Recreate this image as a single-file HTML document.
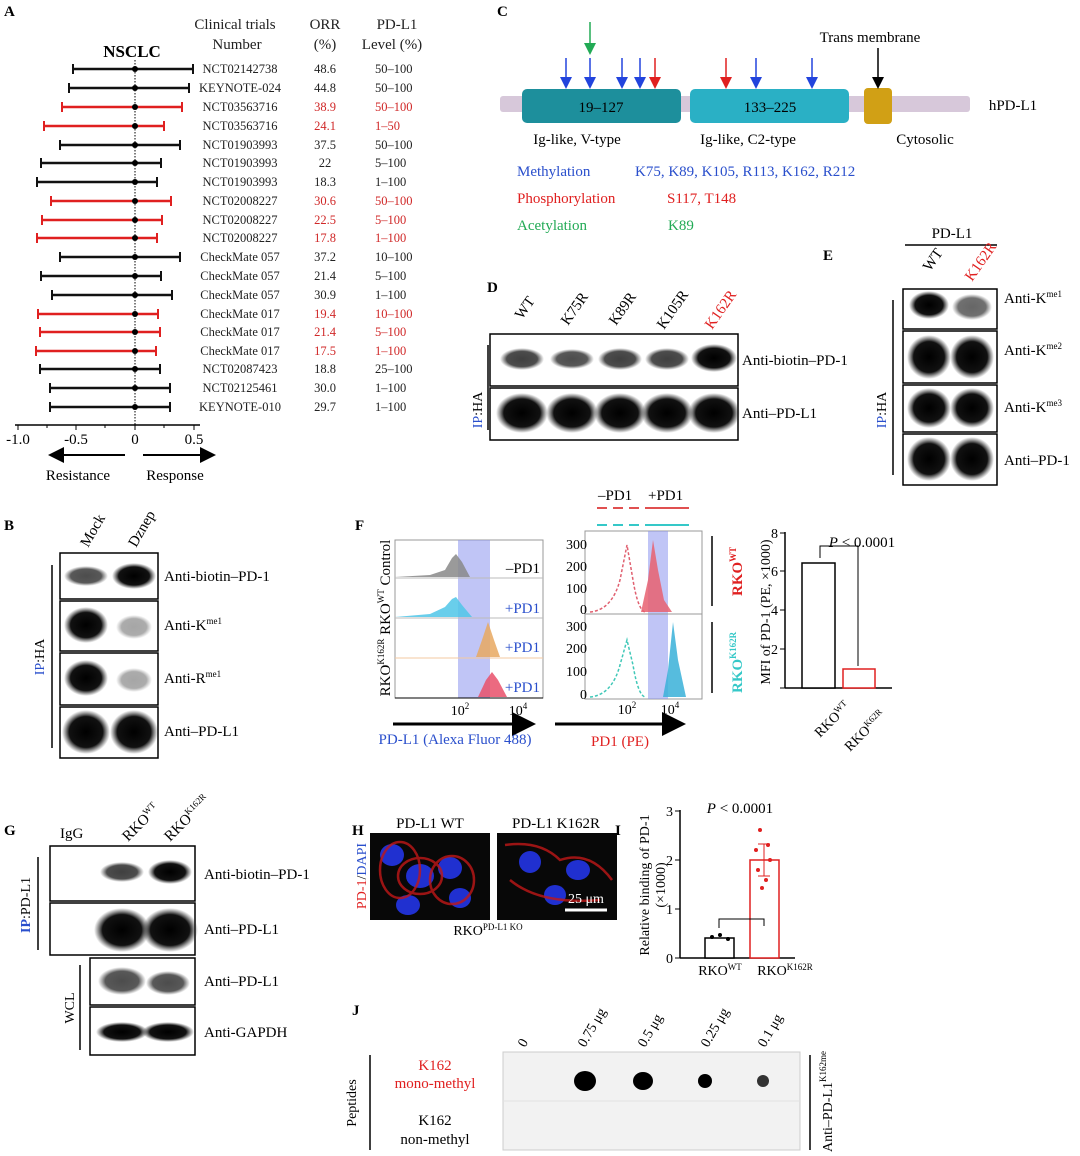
<!DOCTYPE html><html><head><meta charset="utf-8"><style>body{margin:0;background:#fff}svg{display:block}text{font-family:"Liberation Serif",serif}</style></head><body>
<svg width="1080" height="1156" viewBox="0 0 1080 1156" xmlns="http://www.w3.org/2000/svg">
<defs>
<radialGradient id="bl"><stop offset="0" stop-color="#000"/><stop offset=".7" stop-color="#111"/><stop offset="1" stop-color="#333" stop-opacity="0"/></radialGradient>
<marker id="ar" markerWidth="8" markerHeight="8" refX="6" refY="4" orient="auto"><path d="M0,0L8,4L0,8z" fill="#000"/></marker>
<marker id="arb" markerWidth="8" markerHeight="8" refX="6" refY="4" orient="auto"><path d="M0,0L8,4L0,8z" fill="#2244dd"/></marker>
<marker id="arr" markerWidth="8" markerHeight="8" refX="6" refY="4" orient="auto"><path d="M0,0L8,4L0,8z" fill="#e02020"/></marker>
<marker id="arg" markerWidth="8" markerHeight="8" refX="6" refY="4" orient="auto"><path d="M0,0L8,4L0,8z" fill="#22aa55"/></marker>
</defs>
<g font-family="Liberation Sans" font-weight="bold" font-size="15">
<text x="4" y="16" font-family="Liberation Sans">A</text><text x="497" y="16" font-family="Liberation Sans">C</text>
<text x="487" y="292" font-family="Liberation Sans">D</text><text x="823" y="260" font-family="Liberation Sans">E</text>
<text x="4" y="530" font-family="Liberation Sans">B</text><text x="355" y="530" font-family="Liberation Sans">F</text>
<text x="4" y="835" font-family="Liberation Sans">G</text><text x="352" y="835" font-family="Liberation Sans">H</text>
<text x="615" y="835" font-family="Liberation Sans">I</text><text x="352" y="1015" font-family="Liberation Sans">J</text>
</g>
<!-- Panel A -->
<text x="132" y="57" font-size="17" font-weight="bold" text-anchor="middle">NSCLC</text>
<g font-size="15" text-anchor="middle" fill="#222"><text x="235" y="29">Clinical trials</text><text x="237" y="49">Number</text><text x="325" y="29">ORR</text><text x="325" y="49">(%)</text><text x="397" y="29">PD-L1</text><text x="392" y="49">Level   (%)</text></g>
<line x1="135" y1="60" x2="135" y2="425" stroke="#000" stroke-dasharray="1.5,1.5"/>
<g font-size="11.5" stroke-width="2.5">
<g stroke="#111"><line x1="73" y1="69" x2="193" y2="69"/><line x1="69" y1="88" x2="189" y2="88"/><line x1="60" y1="145" x2="180" y2="145"/><line x1="41" y1="163" x2="161" y2="163"/><line x1="37" y1="182" x2="157" y2="182"/><line x1="60" y1="257" x2="180" y2="257"/><line x1="41" y1="276" x2="161" y2="276"/><line x1="52" y1="295" x2="172" y2="295"/><line x1="40" y1="369" x2="160" y2="369"/><line x1="50" y1="388" x2="170" y2="388"/><line x1="50" y1="407" x2="170" y2="407"/></g>
<g stroke="#e02020"><line x1="62" y1="107" x2="182" y2="107"/><line x1="44" y1="126" x2="164" y2="126"/><line x1="51" y1="201" x2="171" y2="201"/><line x1="42" y1="220" x2="162" y2="220"/><line x1="37" y1="238" x2="157" y2="238"/><line x1="38" y1="314" x2="158" y2="314"/><line x1="40" y1="332" x2="160" y2="332"/><line x1="36" y1="351" x2="156" y2="351"/></g>
</g>
<g stroke-width="2">
<g stroke="#111"><path d="M73 64v10M193 64v10M69 83v10M189 83v10M60 140v10M180 140v10M41 158v10M161 158v10M37 177v10M157 177v10M60 252v10M180 252v10M41 271v10M161 271v10M52 290v10M172 290v10M40 364v10M160 364v10M50 383v10M170 383v10M50 402v10M170 402v10"/></g>
<g stroke="#e02020"><path d="M62 102v10M182 102v10M44 121v10M164 121v10M51 196v10M171 196v10M42 215v10M162 215v10M37 233v10M157 233v10M38 309v10M158 309v10M40 327v10M160 327v10M36 346v10M156 346v10"/></g>
</g>
<g fill="#000"><circle cx="135" cy="69" r="3"/><circle cx="135" cy="88" r="3"/><circle cx="135" cy="107" r="3"/><circle cx="135" cy="126" r="3"/><circle cx="135" cy="145" r="3"/><circle cx="135" cy="163" r="3"/><circle cx="135" cy="182" r="3"/><circle cx="135" cy="201" r="3"/><circle cx="135" cy="220" r="3"/><circle cx="135" cy="238" r="3"/><circle cx="135" cy="257" r="3"/><circle cx="135" cy="276" r="3"/><circle cx="135" cy="295" r="3"/><circle cx="135" cy="314" r="3"/><circle cx="135" cy="332" r="3"/><circle cx="135" cy="351" r="3"/><circle cx="135" cy="369" r="3"/><circle cx="135" cy="388" r="3"/><circle cx="135" cy="407" r="3"/></g>
<g font-size="12.5" fill="#222">
<g text-anchor="middle">
<text x="240" y="73">NCT02142738</text><text x="240" y="92">KEYNOTE-024</text><text x="240" y="111">NCT03563716</text><text x="240" y="130">NCT03563716</text><text x="240" y="149">NCT01903993</text><text x="240" y="167">NCT01903993</text><text x="240" y="186">NCT01903993</text><text x="240" y="205">NCT02008227</text><text x="240" y="224">NCT02008227</text><text x="240" y="242">NCT02008227</text><text x="240" y="261">CheckMate 057</text><text x="240" y="280">CheckMate 057</text><text x="240" y="299">CheckMate 057</text><text x="240" y="318">CheckMate 017</text><text x="240" y="336">CheckMate 017</text><text x="240" y="355">CheckMate 017</text><text x="240" y="373">NCT02087423</text><text x="240" y="392">NCT02125461</text><text x="240" y="411">KEYNOTE-010</text>
<text x="325" y="73">48.6</text><text x="325" y="92">44.8</text><text x="325" y="111" fill="#d02828">38.9</text><text x="325" y="130" fill="#d02828">24.1</text><text x="325" y="149">37.5</text><text x="325" y="167">22</text><text x="325" y="186">18.3</text><text x="325" y="205" fill="#d02828">30.6</text><text x="325" y="224" fill="#d02828">22.5</text><text x="325" y="242" fill="#d02828">17.8</text><text x="325" y="261">37.2</text><text x="325" y="280">21.4</text><text x="325" y="299">30.9</text><text x="325" y="318" fill="#d02828">19.4</text><text x="325" y="336" fill="#d02828">21.4</text><text x="325" y="355" fill="#d02828">17.5</text><text x="325" y="373">18.8</text><text x="325" y="392">30.0</text><text x="325" y="411">29.7</text>
</g>
<g text-anchor="start">
<text x="375" y="73">50–100</text><text x="375" y="92">50–100</text><text x="375" y="111" fill="#d02828">50–100</text><text x="375" y="130" fill="#d02828">1–50</text><text x="375" y="149">50–100</text><text x="375" y="167">5–100</text><text x="375" y="186">1–100</text><text x="375" y="205" fill="#d02828">50–100</text><text x="375" y="224" fill="#d02828">5–100</text><text x="375" y="242" fill="#d02828">1–100</text><text x="375" y="261">10–100</text><text x="375" y="280">5–100</text><text x="375" y="299">1–100</text><text x="375" y="318" fill="#d02828">10–100</text><text x="375" y="336" fill="#d02828">5–100</text><text x="375" y="355" fill="#d02828">1–100</text><text x="375" y="373">25–100</text><text x="375" y="392">1–100</text><text x="375" y="411">1–100</text>
</g></g>
<line x1="15" y1="425" x2="200" y2="425" stroke="#000" stroke-width="1.5"/>
<path d="M18 425v5M76 425v5M135 425v5M194 425v5M47 425v3M105 425v3M164 425v3" stroke="#000"/>
<g font-size="15" text-anchor="middle"><text x="18" y="444">-1.0</text><text x="76" y="444">-0.5</text><text x="135" y="444">0</text><text x="194" y="444">0.5</text></g>
<line x1="125" y1="455" x2="52" y2="455" stroke="#000" stroke-width="2" marker-end="url(#ar)"/>
<line x1="143" y1="455" x2="212" y2="455" stroke="#000" stroke-width="2" marker-end="url(#ar)"/>
<text x="78" y="480" font-size="15" text-anchor="middle">Resistance</text><text x="175" y="480" font-size="15" text-anchor="middle">Response</text>
<!-- Panel C -->
<rect x="500" y="96" width="470" height="16" fill="#d7c8da" rx="3"/>
<rect x="522" y="89" width="159" height="34" rx="5" fill="#1d8f9c"/>
<rect x="690" y="89" width="159" height="34" rx="5" fill="#2ab0c5"/>
<rect x="864" y="88" width="28" height="36" rx="4" fill="#d1a015"/>
<text x="601" y="112" font-size="15" text-anchor="middle">19–127</text><text x="770" y="112" font-size="15" text-anchor="middle">133–225</text>
<text x="1013" y="110" font-size="15" text-anchor="middle">hPD-L1</text>
<text x="870" y="42" font-size="15" text-anchor="middle">Trans membrane</text>
<line x1="878" y1="48" x2="878" y2="86" stroke="#000" stroke-width="1.5" marker-end="url(#ar)"/>
<g stroke-width="1.5">
<line x1="566" y1="58" x2="566" y2="86" stroke="#2244dd" marker-end="url(#arb)"/><line x1="590" y1="58" x2="590" y2="86" stroke="#2244dd" marker-end="url(#arb)"/><line x1="622" y1="58" x2="622" y2="86" stroke="#2244dd" marker-end="url(#arb)"/><line x1="640" y1="58" x2="640" y2="86" stroke="#2244dd" marker-end="url(#arb)"/><line x1="655" y1="58" x2="655" y2="86" stroke="#e02020" marker-end="url(#arr)"/><line x1="726" y1="58" x2="726" y2="86" stroke="#e02020" marker-end="url(#arr)"/><line x1="756" y1="58" x2="756" y2="86" stroke="#2244dd" marker-end="url(#arb)"/><line x1="812" y1="58" x2="812" y2="86" stroke="#2244dd" marker-end="url(#arb)"/><line x1="590" y1="22" x2="590" y2="52" stroke="#22aa55" marker-end="url(#arg)"/>
</g>
<text x="577" y="144" font-size="15" text-anchor="middle">Ig-like, V-type</text><text x="748" y="144" font-size="15" text-anchor="middle">Ig-like, C2-type</text><text x="925" y="144" font-size="15" text-anchor="middle">Cytosolic</text>
<g font-size="15"><text x="517" y="176" fill="#2a4fcc">Methylation</text><text x="635" y="176" fill="#2a4fcc">K75, K89, K105, R113, K162, R212</text>
<text x="517" y="203" fill="#e02020">Phosphorylation</text><text x="667" y="203" fill="#e02020">S117, T148</text>
<text x="517" y="230" fill="#22aa55">Acetylation</text><text x="668" y="230" fill="#22aa55">K89</text></g>
<!-- Panel D -->
<g font-size="15"><text transform="translate(522,320) rotate(-55)">WT</text><text transform="translate(568,326) rotate(-55)">K75R</text><text transform="translate(616,326) rotate(-55)">K89R</text><text transform="translate(664,330) rotate(-55)">K105R</text><text transform="translate(712,330) rotate(-55)" fill="#e02020">K162R</text></g>
<rect x="490" y="334" width="248" height="52" fill="#fff" stroke="#000" stroke-width="1.5"/>
<rect x="490" y="388" width="248" height="52" fill="#fff" stroke="#000" stroke-width="1.5"/>
<g fill="url(#bl)"><ellipse cx="522" cy="359" rx="22" ry="11" opacity=".75"/><ellipse cx="572" cy="359" rx="22" ry="10" opacity=".7"/><ellipse cx="620" cy="359" rx="22" ry="11" opacity=".75"/><ellipse cx="667" cy="359" rx="22" ry="11" opacity=".75"/><ellipse cx="714" cy="358" rx="23" ry="14"/>
<ellipse cx="522" cy="413" rx="26" ry="20"/><ellipse cx="572" cy="413" rx="26" ry="20"/><ellipse cx="620" cy="413" rx="26" ry="20"/><ellipse cx="667" cy="413" rx="26" ry="20"/><ellipse cx="714" cy="413" rx="26" ry="20"/></g>
<text x="742" y="365" font-size="15">Anti-biotin–PD-1</text><text x="742" y="418" font-size="15">Anti–PD-L1</text>
<line x1="488" y1="345" x2="488" y2="430" stroke="#000" stroke-width="1.5"/>
<text transform="translate(482,410) rotate(-90)" font-size="14" text-anchor="middle"><tspan fill="#2a4fcc">IP</tspan>:HA</text>
<!-- Panel E -->
<text x="952" y="238" font-size="15" text-anchor="middle">PD-L1</text><line x1="905" y1="245" x2="997" y2="245" stroke="#000" stroke-width="1.5"/>
<text transform="translate(930,272) rotate(-55)" font-size="15">WT</text><text transform="translate(972,282) rotate(-55)" font-size="15" fill="#e02020">K162R</text>
<rect x="903" y="289" width="94" height="40" fill="#fff" stroke="#000" stroke-width="1.5"/>
<rect x="903" y="331" width="94" height="52" fill="#fff" stroke="#000" stroke-width="1.5"/>
<rect x="903" y="385" width="94" height="47" fill="#fff" stroke="#000" stroke-width="1.5"/>
<rect x="903" y="434" width="94" height="51" fill="#fff" stroke="#000" stroke-width="1.5"/>
<g fill="url(#bl)"><ellipse cx="929" cy="305" rx="20" ry="14"/><ellipse cx="972" cy="307" rx="20" ry="13" opacity=".6"/>
<ellipse cx="929" cy="357" rx="22" ry="22"/><ellipse cx="972" cy="357" rx="22" ry="22"/><ellipse cx="929" cy="408" rx="22" ry="20"/><ellipse cx="972" cy="408" rx="22" ry="20"/><ellipse cx="929" cy="459" rx="22" ry="22"/><ellipse cx="972" cy="459" rx="22" ry="22"/></g>
<g font-size="15"><text x="1004" y="303">Anti-K<tspan font-size="9" dy="-6">me1</tspan></text><text x="1004" y="355">Anti-K<tspan font-size="9" dy="-6">me2</tspan></text><text x="1004" y="412">Anti-K<tspan font-size="9" dy="-6">me3</tspan></text><text x="1004" y="465">Anti–PD-1</text></g>
<line x1="893" y1="300" x2="893" y2="475" stroke="#000" stroke-width="1.5"/>
<text transform="translate(886,410) rotate(-90)" font-size="14" text-anchor="middle"><tspan fill="#2a4fcc">IP</tspan>:HA</text>
<!-- Panel B -->
<text transform="translate(88,548) rotate(-60)" font-size="15">Mock</text><text transform="translate(136,548) rotate(-60)" font-size="15">Dznep</text>
<rect x="60" y="553" width="98" height="46" fill="#fff" stroke="#000" stroke-width="1.5"/>
<rect x="60" y="601" width="98" height="50" fill="#fff" stroke="#000" stroke-width="1.5"/>
<rect x="60" y="653" width="98" height="52" fill="#fff" stroke="#000" stroke-width="1.5"/>
<rect x="60" y="707" width="98" height="51" fill="#fff" stroke="#000" stroke-width="1.5"/>
<g fill="url(#bl)"><ellipse cx="86" cy="576" rx="22" ry="10" opacity=".7"/><ellipse cx="134" cy="576" rx="22" ry="13"/>
<ellipse cx="86" cy="625" rx="22" ry="18"/><ellipse cx="134" cy="627" rx="18" ry="12" opacity=".35"/><ellipse cx="86" cy="678" rx="22" ry="18"/><ellipse cx="134" cy="680" rx="18" ry="12" opacity=".35"/><ellipse cx="86" cy="732" rx="24" ry="22"/><ellipse cx="134" cy="732" rx="24" ry="22"/></g>
<g font-size="15"><text x="164" y="581">Anti-biotin–PD-1</text><text x="164" y="630">Anti-K<tspan font-size="9" dy="-6">me1</tspan></text><text x="164" y="683">Anti-R<tspan font-size="9" dy="-6">me1</tspan></text><text x="164" y="736">Anti–PD-L1</text></g>
<line x1="52" y1="565" x2="52" y2="748" stroke="#000" stroke-width="1.5"/>
<text transform="translate(44,657) rotate(-90)" font-size="14" text-anchor="middle"><tspan fill="#2a4fcc">IP</tspan>:HA</text>
<!-- Panel F left -->
<rect x="395" y="540" width="148" height="158" fill="#fff" stroke="#999"/>
<rect x="458" y="540" width="32" height="158" fill="#8c96ee" opacity=".55"/>
<path d="M395 577 L430 575 L445 570 L452 558 L456 554 L462 562 L470 577 Z" fill="#888" opacity=".85"/>
<path d="M395 617 L430 614 L445 607 L452 599 L456 597 L462 605 L472 617 Z" fill="#4fc6e8" opacity=".85"/>
<line x1="395" y1="658" x2="543" y2="658" stroke="#f3c9a0"/>
<path d="M476 657 L482 640 L488 622 L494 640 L500 657 Z" fill="#e8a860" opacity=".85"/>
<path d="M478 697 L486 680 L492 672 L498 680 L507 697 Z" fill="#e9506a" opacity=".85"/>
<path d="M395 578H543M395 618H543" stroke="#bbb"/>
<path d="M395 698H543" stroke="#000"/>
<g font-size="15" fill="#2a4fcc"><text x="540" y="573" text-anchor="end" fill="#000">–PD1</text><text x="540" y="613" text-anchor="end">+PD1</text><text x="540" y="652" text-anchor="end">+PD1</text><text x="540" y="692" text-anchor="end">+PD1</text></g>
<text transform="translate(390,618) rotate(-90)" font-size="15" text-anchor="middle">RKO<tspan font-size="9" dy="-6">K162R</tspan><tspan dy="6"> RKO</tspan><tspan font-size="9" dy="-6">WT</tspan><tspan dy="6"> Control</tspan></text>
<text x="460" y="715" font-size="14" text-anchor="middle">10<tspan font-size="9" dy="-6">2</tspan></text><text x="518" y="715" font-size="14" text-anchor="middle">10<tspan font-size="9" dy="-6">4</tspan></text>
<line x1="393" y1="724" x2="530" y2="724" stroke="#000" stroke-width="3" marker-end="url(#ar)"/>
<text x="455" y="744" font-size="15" fill="#2a4fcc" text-anchor="middle">PD-L1 (Alexa Fluor 488)</text>
<!-- Panel F middle -->
<g font-size="15"><text x="598" y="500">–PD1</text><text x="648" y="500">+PD1</text></g>
<path d="M597 508h52" stroke="#e05050" stroke-width="2" stroke-dasharray="10,6"/><path d="M597 525h52" stroke="#35c8c8" stroke-width="2" stroke-dasharray="10,6"/>
<line x1="648" y1="508" x2="689" y2="508" stroke="#e05050" stroke-width="2"/><line x1="648" y1="525" x2="689" y2="525" stroke="#35c8c8" stroke-width="2"/>
<rect x="585" y="531" width="117" height="168" fill="#fff" stroke="#999"/>
<rect x="648" y="531" width="20" height="168" fill="#8c96ee" opacity=".55"/>
<path d="M590 612 Q612 610 620 580 L627 545 L633 580 Q638 610 645 612" fill="none" stroke="#e06070" stroke-dasharray="3,2" stroke-width="1.5"/>
<path d="M641 612 L648 580 L653 540 L658 570 L664 600 L672 612 Z" fill="#e86070" opacity=".85"/>
<path d="M590 697 Q612 695 620 665 L627 640 L633 665 Q638 695 645 697" fill="none" stroke="#40c8b8" stroke-dasharray="3,2" stroke-width="1.5"/>
<path d="M663 697 L668 670 L673 622 L678 660 L686 697 Z" fill="#38b0d8" opacity=".85"/>
<line x1="585" y1="614" x2="702" y2="614" stroke="#999"/>
<g font-size="14" text-anchor="end"><text x="587" y="549">300</text><text x="587" y="571">200</text><text x="587" y="593">100</text><text x="587" y="614">0</text><text x="587" y="631">300</text><text x="587" y="653">200</text><text x="587" y="676">100</text><text x="587" y="699">0</text></g>
<text x="627" y="714" font-size="14" text-anchor="middle">10<tspan font-size="9" dy="-6">2</tspan></text><text x="670" y="714" font-size="14" text-anchor="middle">10<tspan font-size="9" dy="-6">4</tspan></text>
<line x1="555" y1="724" x2="680" y2="724" stroke="#000" stroke-width="3" marker-end="url(#ar)"/>
<text x="620" y="746" font-size="15" fill="#e02020" text-anchor="middle">PD1 (PE)</text>
<line x1="712" y1="536" x2="712" y2="606" stroke="#000" stroke-width="1.5"/><line x1="712" y1="622" x2="712" y2="693" stroke="#000" stroke-width="1.5"/>
<text transform="translate(742,596) rotate(-90)" font-size="15" fill="#e02020" font-weight="bold">RKO<tspan font-size="9" dy="-6">WT</tspan></text>
<text transform="translate(742,693) rotate(-90)" font-size="15" fill="#35c8c8" font-weight="bold">RKO<tspan font-size="9" dy="-6">K162R</tspan></text>
<!-- Panel F bar -->
<line x1="785" y1="532" x2="785" y2="688" stroke="#000" stroke-width="1.5"/><line x1="785" y1="688" x2="892" y2="688" stroke="#000" stroke-width="1.5"/>
<path d="M780 533h5M780 571h5M780 610h5M780 649h5M780 688h5" stroke="#000"/>
<g font-size="14" text-anchor="end"><text x="778" y="538">8</text><text x="778" y="576">6</text><text x="778" y="615">4</text><text x="778" y="654">2</text></g>
<rect x="802" y="563" width="33" height="125" fill="#fff" stroke="#000" stroke-width="1.5"/>
<rect x="843" y="669" width="32" height="19" fill="#fff" stroke="#e02020" stroke-width="1.5"/>
<path d="M820 558v-12h38v120" fill="none" stroke="#000" stroke-width="1"/>
<text x="862" y="547" font-size="15" text-anchor="middle"><tspan font-style="italic">P</tspan> &lt; 0.0001</text>
<text transform="translate(770,612) rotate(-90)" font-size="14" text-anchor="middle">MFI of PD-1 (PE, ×1000)</text>
<text transform="translate(820,738) rotate(-45)" font-size="14">RKO<tspan font-size="9" dy="-5">WT</tspan></text>
<text transform="translate(850,752) rotate(-45)" font-size="14">RKO<tspan font-size="9" dy="-5">K62R</tspan></text>
<!-- Panel G -->
<text x="60" y="838" font-size="15">IgG</text>
<text transform="translate(128,842) rotate(-45)" font-size="15">RKO<tspan font-size="9" dy="-6">WT</tspan></text><text transform="translate(170,842) rotate(-45)" font-size="15">RKO<tspan font-size="9" dy="-6">K162R</tspan></text>
<rect x="50" y="846" width="145" height="55" fill="#fff" stroke="#000" stroke-width="1.5"/>
<rect x="50" y="903" width="145" height="52" fill="#fff" stroke="#000" stroke-width="1.5"/>
<rect x="90" y="958" width="105" height="47" fill="#fff" stroke="#000" stroke-width="1.5"/>
<rect x="90" y="1007" width="105" height="48" fill="#fff" stroke="#000" stroke-width="1.5"/>
<g fill="url(#bl)"><ellipse cx="122" cy="872" rx="22" ry="10" opacity=".75"/><ellipse cx="170" cy="872" rx="22" ry="12"/>
<ellipse cx="122" cy="930" rx="28" ry="22"/><ellipse cx="170" cy="930" rx="28" ry="22"/>
<ellipse cx="122" cy="981" rx="24" ry="14" opacity=".7"/><ellipse cx="168" cy="983" rx="22" ry="12" opacity=".7"/>
<ellipse cx="122" cy="1032" rx="26" ry="10"/><ellipse cx="168" cy="1032" rx="26" ry="10"/></g>
<g font-size="15"><text x="204" y="879">Anti-biotin–PD-1</text><text x="204" y="934">Anti–PD-L1</text><text x="204" y="986">Anti–PD-L1</text><text x="204" y="1037">Anti-GAPDH</text></g>
<line x1="38" y1="857" x2="38" y2="950" stroke="#000" stroke-width="1.5"/><line x1="80" y1="965" x2="80" y2="1050" stroke="#000" stroke-width="1.5"/>
<text transform="translate(30,905) rotate(-90)" font-size="14" text-anchor="middle"><tspan fill="#2a4fcc" font-weight="bold">IP</tspan>:PD-L1</text>
<text transform="translate(74,1008) rotate(-90)" font-size="14" text-anchor="middle">WCL</text>
<!-- Panel H -->
<text x="430" y="828" font-size="15" text-anchor="middle">PD-L1 WT</text><text x="556" y="828" font-size="15" text-anchor="middle">PD-L1 K162R</text>
<rect x="370" y="833" width="120" height="87" fill="#080808"/><rect x="497" y="833" width="120" height="87" fill="#080808"/>
<g fill="#2030d0"><ellipse cx="392" cy="855" rx="12" ry="11"/><ellipse cx="420" cy="876" rx="14" ry="12"/><ellipse cx="450" cy="868" rx="12" ry="11"/><ellipse cx="408" cy="905" rx="12" ry="10"/><ellipse cx="460" cy="898" rx="11" ry="10"/><ellipse cx="530" cy="862" rx="11" ry="11"/><ellipse cx="578" cy="870" rx="12" ry="10"/><ellipse cx="555" cy="895" rx="11" ry="10"/></g>
<g fill="none" stroke="#c01818" stroke-width="2.5" opacity=".8"><ellipse cx="420" cy="876" rx="22" ry="18"/><ellipse cx="452" cy="880" rx="22" ry="24"/><ellipse cx="400" cy="870" rx="20" ry="28"/><path d="M505 845 Q540 840 560 860 Q590 850 612 880 M510 880 Q540 905 600 900"/></g>
<line x1="565" y1="910" x2="607" y2="910" stroke="#fff" stroke-width="3"/><text x="586" y="903" font-size="14" fill="#fff" text-anchor="middle">25 μm</text>
<text transform="translate(366,876) rotate(-90)" font-size="14" text-anchor="middle"><tspan fill="#e02020">PD-1</tspan>/<tspan fill="#2a4fcc">DAPI</tspan></text>
<text x="488" y="935" font-size="14" text-anchor="middle">RKO<tspan font-size="9" dy="-5">PD-L1 KO</tspan></text>
<!-- Panel I -->
<line x1="680" y1="810" x2="680" y2="958" stroke="#000" stroke-width="1.5"/><line x1="680" y1="958" x2="795" y2="958" stroke="#000" stroke-width="1.5"/>
<path d="M675 811h5M675 860h5M675 909h5M675 958h5" stroke="#000"/>
<g font-size="14" text-anchor="end"><text x="673" y="816">3</text><text x="673" y="865">2</text><text x="673" y="914">1</text><text x="673" y="963">0</text></g>
<rect x="705" y="938" width="29" height="20" fill="#fff" stroke="#000" stroke-width="1.5"/>
<rect x="750" y="860" width="29" height="98" fill="#fff" stroke="#e02020" stroke-width="1.5"/>
<path d="M764 844v32M758 844h12M758 876h12" stroke="#e02020"/>
<g fill="#e02020"><circle cx="760" cy="830" r="2"/><circle cx="768" cy="845" r="2"/><circle cx="756" cy="850" r="2"/><circle cx="770" cy="860" r="2"/><circle cx="758" cy="870" r="2"/><circle cx="766" cy="880" r="2"/><circle cx="762" cy="888" r="2"/></g>
<g fill="#000"><circle cx="712" cy="937" r="2"/><circle cx="720" cy="935" r="2"/><circle cx="728" cy="939" r="2"/></g>
<path d="M719 928v-9h45v7" fill="none" stroke="#000"/>
<text x="740" y="813" font-size="15" text-anchor="middle"><tspan font-style="italic">P</tspan> &lt; 0.0001</text>
<text transform="translate(649,885) rotate(-90)" font-size="14" text-anchor="middle">Relative binding of  PD-1</text>
<text transform="translate(665,885) rotate(-90)" font-size="14" text-anchor="middle">(×1000)</text>
<text x="720" y="975" font-size="14" text-anchor="middle">RKO<tspan font-size="9" dy="-5">WT</tspan></text><text x="785" y="975" font-size="14" text-anchor="middle">RKO<tspan font-size="9" dy="-5">K162R</tspan></text>
<!-- Panel J -->
<g font-size="14"><text transform="translate(525,1048) rotate(-60)">0</text><text transform="translate(585,1048) rotate(-60)">0.75 μg</text><text transform="translate(645,1048) rotate(-60)">0.5 μg</text><text transform="translate(708,1048) rotate(-60)">0.25 μg</text><text transform="translate(765,1048) rotate(-60)">0.1 μg</text></g>
<rect x="503" y="1052" width="297" height="98" fill="#f2f2f2" stroke="#ccc"/>
<line x1="503" y1="1101" x2="800" y2="1101" stroke="#e2e2e2"/>
<g fill="#000"><ellipse cx="585" cy="1081" rx="11" ry="10"/><ellipse cx="643" cy="1081" rx="10" ry="9"/><ellipse cx="705" cy="1081" rx="7" ry="7"/><ellipse cx="763" cy="1081" rx="6" ry="6" fill="#333"/></g>
<g font-size="15" text-anchor="middle"><text x="435" y="1070" fill="#e02020">K162</text><text x="435" y="1088" fill="#e02020">mono-methyl</text><text x="435" y="1125">K162</text><text x="435" y="1144">non-methyl</text></g>
<line x1="370" y1="1055" x2="370" y2="1150" stroke="#000" stroke-width="1.5"/>
<text transform="translate(356,1103) rotate(-90)" font-size="14" text-anchor="middle">Peptides</text>
<line x1="810" y1="1055" x2="810" y2="1150" stroke="#000" stroke-width="1.5"/>
<text transform="translate(832,1152) rotate(-90)" font-size="14">Anti–PD-L1<tspan font-size="9" dy="-6">K162me</tspan></text>
</svg>
</body></html>
